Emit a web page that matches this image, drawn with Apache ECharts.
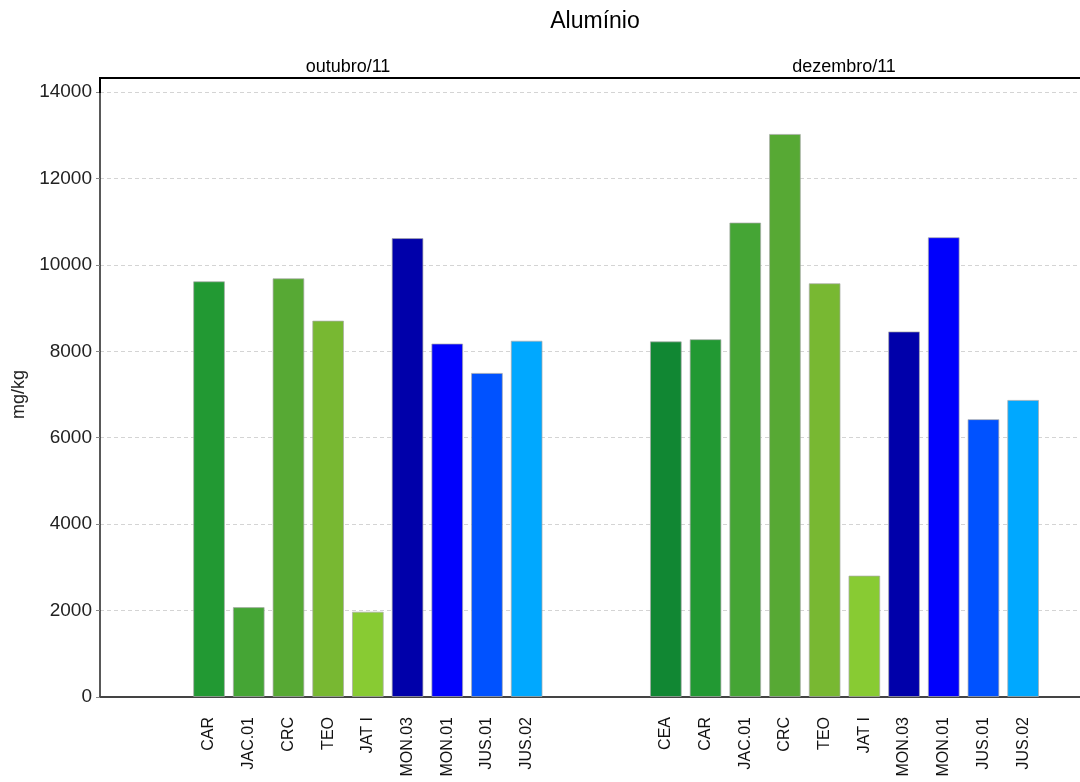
<!DOCTYPE html>
<html>
<head>
<meta charset="utf-8">
<script src="https://cdn.jsdelivr.net/npm/echarts@6/dist/echarts.min.js"></script>
<style>html,body{margin:0;padding:0;background:#fff}#c{width:1080px;height:782px}</style>
</head>
<body>
<div id="c"></div>
<script>
const chartTitle = 'Alumínio';
const panelNames = ['outubro/11', 'dezembro/11'];
const sites = ['CEA', 'CAR', 'JAC.01', 'CRC', 'TEO', 'JAT I', 'MON.03', 'MON.01', 'JUS.01', 'JUS.02'];
const siteColors = ['#118733', '#229933', '#45a535', '#57a934', '#78b832', '#88cb33', '#0000aa', '#0000fc', '#0052ff', '#00a8ff'];
const octValues = [null, 9620, 2080, 9690, 8710, 1975, 10620, 8180, 7500, 8245];
const decValues = [8230, 8280, 10980, 13030, 9575, 2810, 8460, 10640, 6430, 6875];
const yTicks = { min: 0, max: 14000, interval: 2000 };

const FONT = 'Liberation Sans, Arial, sans-serif';
const chart = echarts.init(document.getElementById('c'));

function barData(vals) {
  return vals.map((v, i) => ({
    value: v,
    itemStyle: { color: siteColors[i], borderColor: 'rgba(170,170,170,0.7)', borderWidth: 1 }
  }));
}
function catAxis(gridIndex, vals) {
  return {
    type: 'category', gridIndex, data: sites,
    axisLine: { show: false }, axisTick: { show: false },
    axisLabel: {
      rotate: 90, margin: 20, fontSize: 16, color: '#111', fontFamily: FONT, interval: 0,
      formatter: (val, idx) => (vals[idx] === null ? '' : val)
    }
  };
}
function hiddenY(gridIndex) {
  return { type: 'value', gridIndex, min: yTicks.min, max: yTicks.max, interval: yTicks.interval, show: false };
}

const option = {
  animation: false,
  backgroundColor: '#fff',
  grid: [
    { left: 100, right: 0, top: 92, bottom: 85 },
    { left: 149.5, width: 397, top: 92, bottom: 85 },
    { left: 646, width: 397, top: 92, bottom: 85 }
  ],
  xAxis: [
    { type: 'value', gridIndex: 0, min: 0, max: 1, axisLabel: { show: false }, axisTick: { show: false },
      splitLine: { show: false }, axisLine: { show: true, lineStyle: { color: '#444', width: 2 } } },
    catAxis(1, octValues),
    catAxis(2, decValues)
  ],
  yAxis: [
    { type: 'value', gridIndex: 0, min: yTicks.min, max: yTicks.max, interval: yTicks.interval,
      name: 'mg/kg', nameLocation: 'middle', nameGap: 70, nameRotate: 90,
      nameTextStyle: { fontSize: 18, color: '#222', fontFamily: FONT },
      axisLine: { show: true, lineStyle: { color: '#222', width: 1.5 } },
      axisTick: { show: true, length: 4, lineStyle: { color: '#888' } },
      axisLabel: { fontSize: 19, color: '#222', margin: 8, fontFamily: FONT, formatter: v => String(v) },
      splitLine: { show: true, lineStyle: { color: '#d4d4d4', type: [4, 3], width: 1 } }
    },
    hiddenY(1),
    hiddenY(2)
  ],
  series: [
    { type: 'bar', xAxisIndex: 1, yAxisIndex: 1, data: barData(octValues), barWidth: '80%' },
    { type: 'bar', xAxisIndex: 2, yAxisIndex: 2, data: barData(decValues), barWidth: '80%' }
  ],
  graphic: [
    { type: 'polyline', z: 100, shape: { points: [[100, 93], [100, 78], [1080, 78]] },
      style: { stroke: '#000', lineWidth: 2, fill: null } },
    { type: 'text', x: 595, y: 22, style: { text: chartTitle, fontSize: 23, fill: '#000', fontFamily: FONT, align: 'center', verticalAlign: 'middle' } },
    { type: 'text', x: 348, y: 67, style: { text: panelNames[0], fontSize: 18, fill: '#000', fontFamily: FONT, align: 'center', verticalAlign: 'middle' } },
    { type: 'text', x: 844, y: 67, style: { text: panelNames[1], fontSize: 18, fill: '#000', fontFamily: FONT, align: 'center', verticalAlign: 'middle' } }
  ]
};
chart.setOption(option);
</script>
</body>
</html>
